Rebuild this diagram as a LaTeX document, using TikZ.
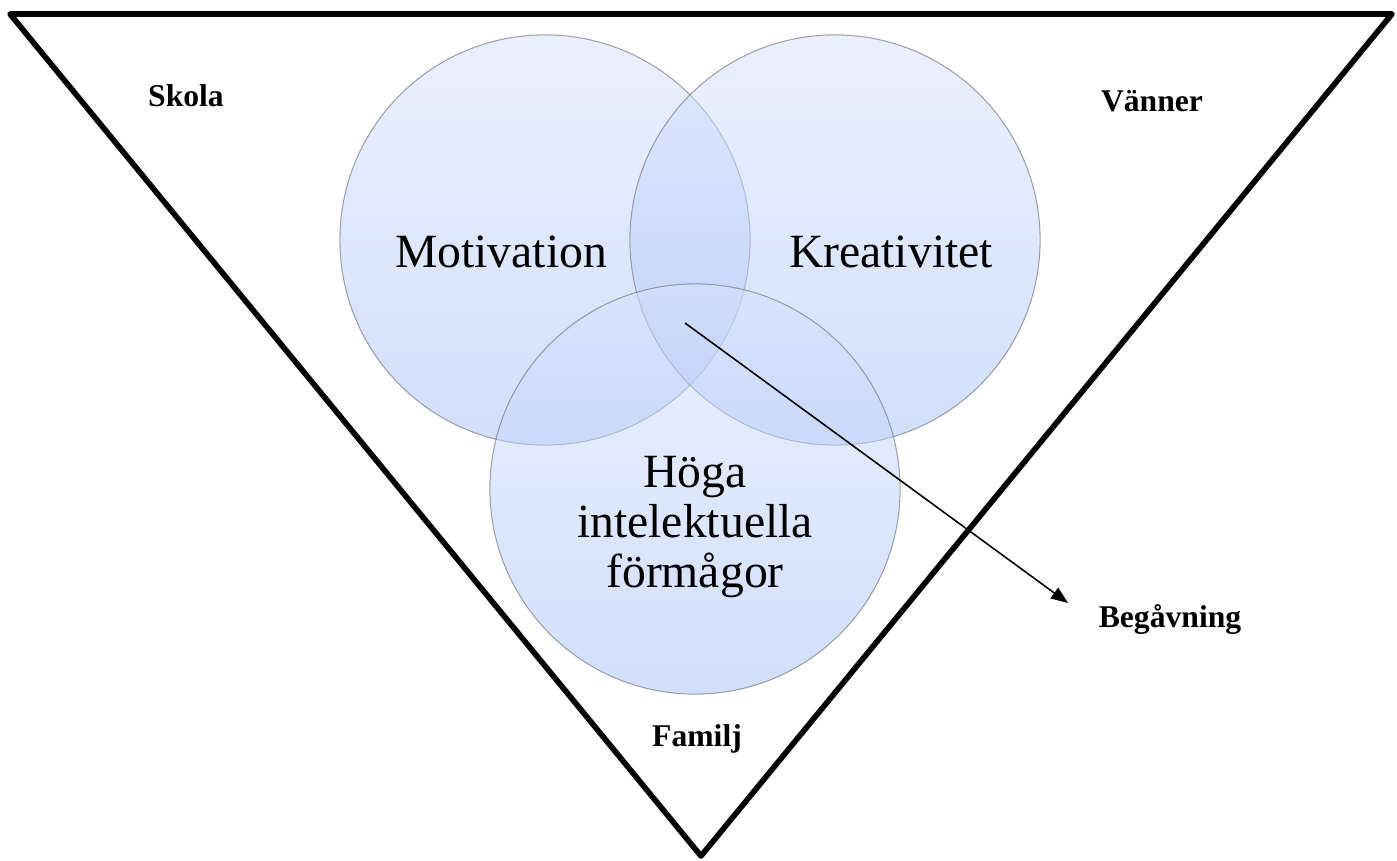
\documentclass[tikz,border=0pt]{standalone}
\usepackage{fontspec}
\setmainfont{Liberation Serif}
\usetikzlibrary{arrows.meta,positioning}
\definecolor{ringtop}{RGB}{215,225,253}
\definecolor{ringbot}{RGB}{165,192,248}
\definecolor{ringline}{RGB}{120,125,135}

\begin{document}
\begin{tikzpicture}[x=0.01cm, y=-0.01cm,
    ring/.style={circle, minimum size=4.1cm, inner sep=0pt, draw=ringline, line width=0.3pt,
        top color=ringtop, bottom color=ringbot, fill opacity=0.5, draw opacity=0.7},
    big/.style={font=\fontsize{13.56pt}{14.2pt}\selectfont, inner sep=0pt, align=center},
    side/.style={font=\fontsize{9pt}{10pt}\selectfont\bfseries, inner sep=0pt, anchor=base},
    frame/.style={line width=1.6pt, line join=round},
    pil/.style={line width=0.45pt, -{Triangle[length=0.17cm, width=0.13cm]}}]
    \useasboundingbox (0,0) rectangle (1397,861);

    \coordinate (tl) at (10,14);
    \coordinate (tr) at (1392,14);
    \coordinate (ap) at (701,856);
    \draw[frame] (tl) -- (tr) -- (ap) -- cycle;

    \node[ring] (Mot) at (545,240) {};
    \node[ring] (Kre) at (835,240) {};
    \node[ring] (Hog) at (695,489) {};

    \node[big, anchor=base] (Mot_t) at (501,268) {Motivation};
    \node[big, anchor=base] (Kre_t) at (891,268) {Kreativitet};
    \node[big] (Hog_t) at (695,527) {Höga\\intelektuella\\förmågor};

    \node[side] (Skola) at (186,107) {Skola};
    \node[side] (Vanner) at (1152,112) {Vänner};
    \node[side] (Familj) at (697,746) {Familj};
    \node[side] (Beg) at (1170,627) {Begåvning};

    \coordinate (start) at (685,323);
    \coordinate (tip) at (1068,603);
    \draw[pil] (start) -- (tip);
\end{tikzpicture}
\end{document}
